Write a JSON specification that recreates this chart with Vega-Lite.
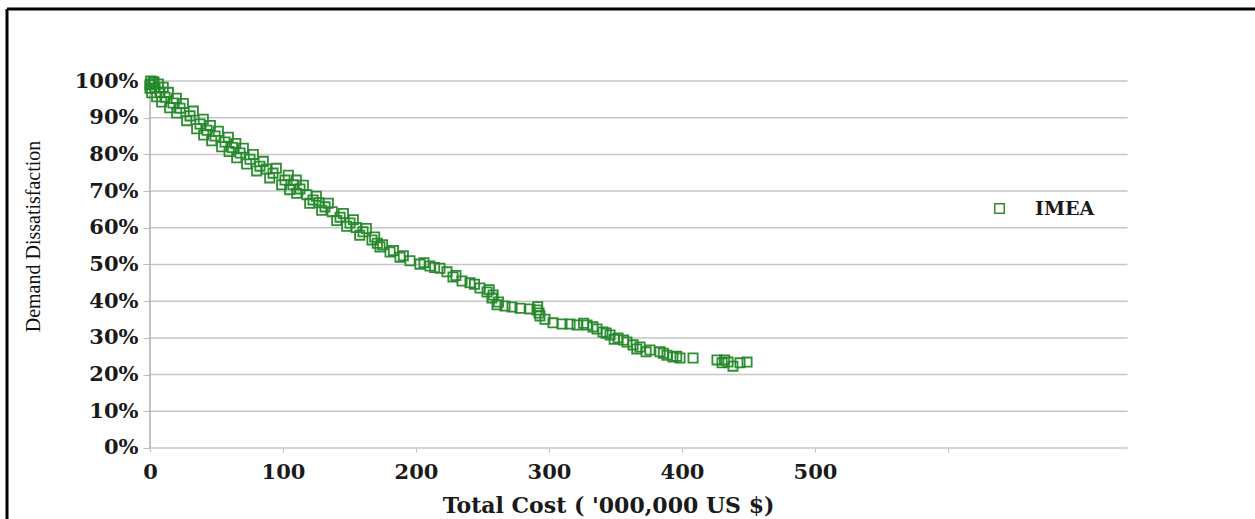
{
  "$schema": "https://vega.github.io/schema/vega-lite/v6.json",
  "width": 1248,
  "height": 510,
  "autosize": "none",
  "padding": {"left": 7, "top": 9, "right": 0, "bottom": 0},
  "background": "white",
  "config": {"view": {"stroke": null}},
  "datasets": {
    "grid": [
      {"level": 0}, {"level": 0.1}, {"level": 0.2}, {"level": 0.3}, {"level": 0.4}, {"level": 0.5},
      {"level": 0.6}, {"level": 0.7}, {"level": 0.8}, {"level": 0.9}, {"level": 1.0}
    ],
    "points": [
      {"cost": 0.5, "dissat": 1.0}, {"cost": 2.5, "dissat": 0.998}, {"cost": 0, "dissat": 0.990},
      {"cost": 1, "dissat": 0.992}, {"cost": 3, "dissat": 0.997}, {"cost": 0, "dissat": 0.980},
      {"cost": 3.8, "dissat": 0.981}, {"cost": 6.3, "dissat": 0.992}, {"cost": 1.3, "dissat": 0.968},
      {"cost": 7.5, "dissat": 0.970}, {"cost": 10.0, "dissat": 0.983}, {"cost": 5.0, "dissat": 0.957},
      {"cost": 11.3, "dissat": 0.956}, {"cost": 13.8, "dissat": 0.969}, {"cost": 8.8, "dissat": 0.943},
      {"cost": 17.3, "dissat": 0.940}, {"cost": 19.8, "dissat": 0.953}, {"cost": 14.8, "dissat": 0.927},
      {"cost": 22.6, "dissat": 0.926}, {"cost": 25.1, "dissat": 0.939}, {"cost": 20.1, "dissat": 0.913},
      {"cost": 30.1, "dissat": 0.905}, {"cost": 32.6, "dissat": 0.918}, {"cost": 27.6, "dissat": 0.892},
      {"cost": 37.6, "dissat": 0.883}, {"cost": 40.1, "dissat": 0.896}, {"cost": 35.1, "dissat": 0.870},
      {"cost": 42.9, "dissat": 0.866}, {"cost": 45.4, "dissat": 0.879}, {"cost": 40.4, "dissat": 0.853},
      {"cost": 48.9, "dissat": 0.850}, {"cost": 51.4, "dissat": 0.863}, {"cost": 46.4, "dissat": 0.837},
      {"cost": 56.4, "dissat": 0.834}, {"cost": 58.9, "dissat": 0.847}, {"cost": 53.9, "dissat": 0.821},
      {"cost": 62.0, "dissat": 0.819}, {"cost": 64.5, "dissat": 0.830}, {"cost": 59.5, "dissat": 0.808},
      {"cost": 67.7, "dissat": 0.804}, {"cost": 70.2, "dissat": 0.817}, {"cost": 65.2, "dissat": 0.791},
      {"cost": 75.2, "dissat": 0.787}, {"cost": 77.7, "dissat": 0.800}, {"cost": 72.7, "dissat": 0.774},
      {"cost": 82.7, "dissat": 0.768}, {"cost": 85.2, "dissat": 0.781}, {"cost": 80.2, "dissat": 0.755},
      {"cost": 87.5, "dissat": 0.760},
      {"cost": 92.5, "dissat": 0.749}, {"cost": 95.0, "dissat": 0.762}, {"cost": 90.0, "dissat": 0.736},
      {"cost": 101.5, "dissat": 0.730}, {"cost": 104.0, "dissat": 0.743}, {"cost": 99.0, "dissat": 0.717},
      {"cost": 107.5, "dissat": 0.717}, {"cost": 110.0, "dissat": 0.730}, {"cost": 105.0, "dissat": 0.704},
      {"cost": 112.8, "dissat": 0.706}, {"cost": 115.3, "dissat": 0.716}, {"cost": 110.3, "dissat": 0.694},
      {"cost": 118.0, "dissat": 0.690},
      {"cost": 122.6, "dissat": 0.676}, {"cost": 125.1, "dissat": 0.686}, {"cost": 120.1, "dissat": 0.667},
      {"cost": 127.0, "dissat": 0.668},
      {"cost": 131.6, "dissat": 0.657}, {"cost": 134.1, "dissat": 0.667}, {"cost": 129.1, "dissat": 0.648},
      {"cost": 137.0, "dissat": 0.644},
      {"cost": 142.9, "dissat": 0.629}, {"cost": 145.4, "dissat": 0.639}, {"cost": 140.4, "dissat": 0.620},
      {"cost": 150.4, "dissat": 0.613}, {"cost": 152.9, "dissat": 0.622}, {"cost": 147.9, "dissat": 0.604},
      {"cost": 155.0, "dissat": 0.601},
      {"cost": 160.2, "dissat": 0.589}, {"cost": 162.7, "dissat": 0.598}, {"cost": 157.7, "dissat": 0.580},
      {"cost": 166.9, "dissat": 0.567}, {"cost": 168.9, "dissat": 0.575},
      {"cost": 172.9, "dissat": 0.548}, {"cost": 174.9, "dissat": 0.554}, {"cost": 170.9, "dissat": 0.558},
      {"cost": 180.5, "dissat": 0.534}, {"cost": 183.0, "dissat": 0.538},
      {"cost": 188.0, "dissat": 0.520}, {"cost": 190.5, "dissat": 0.524},
      {"cost": 195.5, "dissat": 0.510},
      {"cost": 203.0, "dissat": 0.501}, {"cost": 206.0, "dissat": 0.505},
      {"cost": 210.5, "dissat": 0.496},
      {"cost": 218.0, "dissat": 0.490}, {"cost": 214.0, "dissat": 0.492},
      {"cost": 223.3, "dissat": 0.480},
      {"cost": 227.8, "dissat": 0.466}, {"cost": 230.0, "dissat": 0.470},
      {"cost": 234.6, "dissat": 0.455},
      {"cost": 240.6, "dissat": 0.450}, {"cost": 244.0, "dissat": 0.446},
      {"cost": 248.1, "dissat": 0.436},
      {"cost": 253.4, "dissat": 0.425}, {"cost": 255.0, "dissat": 0.431},
      {"cost": 257.1, "dissat": 0.409}, {"cost": 258.0, "dissat": 0.417},
      {"cost": 260.9, "dissat": 0.390}, {"cost": 262.0, "dissat": 0.398},
      {"cost": 266.9, "dissat": 0.387},
      {"cost": 272.2, "dissat": 0.384},
      {"cost": 278.2, "dissat": 0.381},
      {"cost": 285.7, "dissat": 0.379},
      {"cost": 291.0, "dissat": 0.376}, {"cost": 291.5, "dissat": 0.385},
      {"cost": 293.2, "dissat": 0.360}, {"cost": 292.5, "dissat": 0.368},
      {"cost": 297.0, "dissat": 0.351},
      {"cost": 303.0, "dissat": 0.341},
      {"cost": 309.8, "dissat": 0.338},
      {"cost": 315.8, "dissat": 0.338},
      {"cost": 321.1, "dissat": 0.335},
      {"cost": 328.6, "dissat": 0.335}, {"cost": 326.0, "dissat": 0.340},
      {"cost": 336.1, "dissat": 0.324}, {"cost": 333.0, "dissat": 0.330},
      {"cost": 340.6, "dissat": 0.316},
      {"cost": 345.9, "dissat": 0.308}, {"cost": 343.0, "dissat": 0.313},
      {"cost": 351.9, "dissat": 0.300}, {"cost": 349.0, "dissat": 0.296},
      {"cost": 358.6, "dissat": 0.289}, {"cost": 356.0, "dissat": 0.294},
      {"cost": 363.2, "dissat": 0.281},
      {"cost": 368.4, "dissat": 0.275}, {"cost": 366.0, "dissat": 0.270},
      {"cost": 375.9, "dissat": 0.267}, {"cost": 373.0, "dissat": 0.262},
      {"cost": 383.5, "dissat": 0.262},
      {"cost": 388.7, "dissat": 0.253}, {"cost": 386.0, "dissat": 0.258},
      {"cost": 393.2, "dissat": 0.248},
      {"cost": 398.5, "dissat": 0.245}, {"cost": 396.0, "dissat": 0.250},
      {"cost": 408.3, "dissat": 0.245},
      {"cost": 426.3, "dissat": 0.240},
      {"cost": 430.1, "dissat": 0.232},
      {"cost": 434.6, "dissat": 0.234}, {"cost": 432.0, "dissat": 0.240},
      {"cost": 438.3, "dissat": 0.223},
      {"cost": 443.6, "dissat": 0.232},
      {"cost": 448.9, "dissat": 0.234}
    ]
  },
  "layer": [
    {
      "data": {"name": "grid"},
      "mark": {"type": "rule", "color": "#c6c6c6", "strokeWidth": 1.5},
      "encoding": {
        "y": {"field": "level", "type": "quantitative", "scale": {"domain": [-0.1935, 1.1962], "nice": false, "zero": false}},
        "x": {"datum": 0, "type": "quantitative", "scale": {"domain": [-107.5, 830.8], "nice": false, "zero": false}},
        "x2": {"datum": 735}
      }
    },
    {
      "data": {"values": [{"line": "y axis"}]},
      "mark": {"type": "rule", "color": "#b0b0b0", "strokeWidth": 1.5},
      "encoding": {
        "x": {"datum": 0, "type": "quantitative"},
        "y": {"datum": 0, "type": "quantitative"},
        "y2": {"datum": 1}
      }
    },
    {
      "data": {"values": [{"line": "frame left"}]},
      "mark": {"type": "rule", "color": "#000000", "strokeWidth": 3},
      "encoding": {
        "x": {"datum": -107.5, "type": "quantitative"},
        "y": {"datum": -0.1935, "type": "quantitative"},
        "y2": {"datum": 1.1962}
      }
    },
    {
      "data": {"values": [{"line": "frame top"}]},
      "mark": {"type": "rule", "color": "#000000", "strokeWidth": 3},
      "encoding": {
        "y": {"datum": 1.1962, "type": "quantitative"},
        "x": {"datum": -107.5, "type": "quantitative"},
        "x2": {"datum": 830.8}
      }
    },
    {
      "data": {"name": "points"},
      "mark": {"type": "point", "shape": "square", "filled": false, "size": 85, "strokeWidth": 1.8, "opacity": 0.95},
      "encoding": {
        "x": {
          "field": "cost", "type": "quantitative",
          "scale": {"domain": [-107.5, 830.8], "nice": false, "zero": false},
          "axis": {
            "offset": -71, "values": [0, 100, 200, 300, 400, 500, 600], "domain": false, "grid": false,
            "tickColor": "#bbbbbb", "tickSize": 4,
            "labelFont": "DejaVu Serif", "labelFontWeight": "bold", "labelFontSize": 21, "labelColor": "#1a1a1a",
            "labelPadding": 9, "labelDx": 7, "labelExpr": "datum.value <= 500 ? datum.label : ''",
            "title": "Total Cost ( '000,000 US $)", "titleFont": "DejaVu Serif", "titleFontSize": 22,
            "titleFontWeight": "bold", "titleColor": "#1a1a1a", "titleX": 601, "titleY": 57,
            "titleBaseline": "middle", "titleAlign": "center"
          }
        },
        "y": {
          "field": "dissat", "type": "quantitative",
          "scale": {"domain": [-0.1935, 1.1962], "nice": false, "zero": false},
          "axis": {
            "offset": -143, "values": [0, 0.1, 0.2, 0.3, 0.4, 0.5, 0.6, 0.7, 0.8, 0.9, 1.0], "format": ".0%",
            "domain": false, "grid": false, "tickColor": "#bbbbbb", "tickSize": 7,
            "labelFont": "DejaVu Serif", "labelFontWeight": "bold", "labelFontSize": 21, "labelColor": "#1a1a1a",
            "labelPadding": 5,
            "title": "Demand Dissatisfaction", "titleFont": "Liberation Serif", "titleFontSize": 20,
            "titleFontWeight": "normal", "titleColor": "#111111", "titleX": -117, "titleY": 227,
            "titleAngle": -90, "titleBaseline": "middle", "titleAlign": "center"
          }
        },
        "color": {
          "datum": "IMEA", "type": "nominal",
          "scale": {"range": ["#24882a"]},
          "legend": {
            "title": null, "orient": "none", "legendX": 983, "legendY": 190,
            "symbolType": "square", "symbolSize": 90, "symbolStrokeWidth": 1.5, "symbolFillColor": "#d9eed9",
            "labelFont": "DejaVu Serif", "labelFontWeight": "bold", "labelFontSize": 19, "labelColor": "#1a1a1a",
            "labelOffset": 26
          }
        }
      }
    }
  ]
}
